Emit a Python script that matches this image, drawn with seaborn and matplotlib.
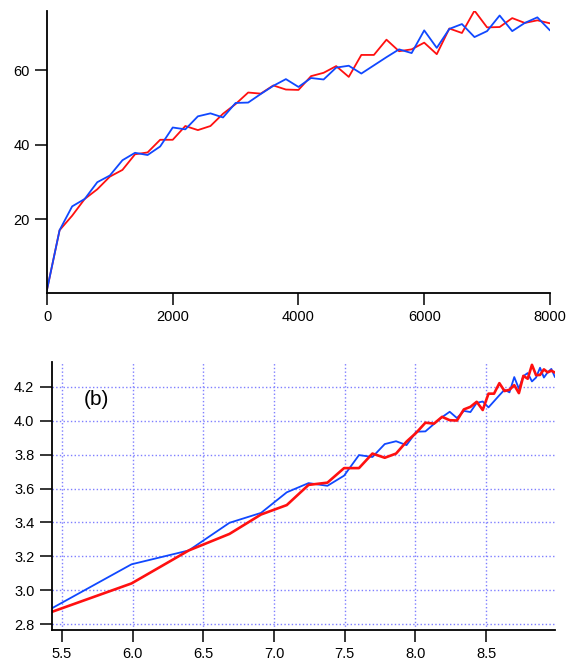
import numpy as np
import matplotlib
matplotlib.use('Agg')
import matplotlib.pyplot as plt
import seaborn as sns

# values (top panel: linear axes, bottom panel: ln-ln of the same data)
steps = [0, 200, 400, 600, 800, 1000, 1200, 1400, 1600, 1800,
         2000, 2200, 2400, 2600, 2800, 3000, 3200, 3400, 3600, 3800,
         4000, 4200, 4400, 4600, 4800, 5000, 5200, 5400, 5600, 5800,
         6000, 6200, 6400, 6600, 6800, 7000, 7200, 7400, 7600, 7800, 8000]

red_vals = [1.0, 17.0, 20.9, 25.4, 28.0, 31.4, 33.2, 37.4, 37.9, 41.3,
            41.3, 45.0, 43.9, 45.0, 48.3, 50.9, 54.0, 53.7, 55.9, 54.8,
            54.7, 58.4, 59.3, 61.1, 58.2, 64.1, 64.1, 68.2, 65.1, 65.6,
            67.4, 64.3, 71.2, 70.0, 76.0, 71.5, 71.6, 74.0, 72.7, 73.4, 72.6]

blue_vals = [1.0, 17.0, 23.4, 25.4, 29.9, 31.7, 35.8, 37.8, 37.2, 39.5,
             44.6, 44.1, 47.6, 48.4, 47.3, 51.2, 51.3, 53.6, 55.8, 57.6,
             55.5, 57.9, 57.5, 60.7, 61.2, 59.1, 61.3, 63.5, 65.6, 64.6,
             70.7, 66.0, 71.1, 72.4, 68.9, 70.5, 74.7, 70.5, 72.7, 74.2, 70.7]

top_xticks = [0, 2000, 4000, 6000, 8000]
top_yticks = [20, 40, 60]
bot_xticks = [5.5, 6.0, 6.5, 7.0, 7.5, 8.0, 8.5]
bot_yticks = [2.8, 3.0, 3.2, 3.4, 3.6, 3.8, 4.0, 4.2]

RED = '#ff1010'
BLUE = '#1048ff'

sns.set_style('ticks')
plt.rcParams['font.family'] = ['Liberation Sans', 'DejaVu Sans']
plt.rcParams['font.size'] = 10
plt.rcParams['text.color'] = 'black'
plt.rcParams['axes.edgecolor'] = 'black'

fig = plt.figure(figsize=(5.67, 6.66), dpi=100)
ax1 = fig.add_axes([0.0829, 0.5605, 0.887, 0.4235])
ax2 = fig.add_axes([0.0912, 0.0541, 0.8875, 0.402])

x = np.array(steps, dtype=float)
r = np.array(red_vals)
b = np.array(blue_vals)

# top panel
sns.lineplot(x=x, y=r, ax=ax1, color=RED, lw=1.3, sort=False)
sns.lineplot(x=x, y=b, ax=ax1, color=BLUE, lw=1.3, sort=False)
ax1.set_xlim(0, 8000)
ax1.set_ylim(0.2, 76.0)
ax1.set_xticks(top_xticks)
ax1.set_yticks(top_yticks)

# bottom panel, log-log
lx = np.log(x[1:])
sns.lineplot(x=lx, y=np.log(b[1:]), ax=ax2, color=BLUE, lw=1.3, sort=False)
sns.lineplot(x=lx, y=np.log(r[1:]), ax=ax2, color=RED, lw=1.9, sort=False)
ax2.set_xlim(5.427, np.log(8000))
ax2.set_ylim(2.765, 4.346)
ax2.set_xticks(bot_xticks)
ax2.set_yticks(bot_yticks)
ax2.set_xticklabels([f'{v:.1f}' for v in bot_xticks])
ax2.set_yticklabels([f'{v:.1f}' for v in bot_yticks])
ax2.grid(True, color='#7f7fff', linestyle=':', lw=1.0)
ax2.set_axisbelow(True)
ax2.text(0.0894, 0.859, '(b)', transform=ax2.transAxes, fontsize=15,
         ha='center', va='center', color='black')

for ax in (ax1, ax2):
    sns.despine(ax=ax)
    ax.spines['left'].set_linewidth(1.3)
    ax.spines['bottom'].set_linewidth(1.3)
    ax.tick_params(direction='out', length=8.5, width=1.1, pad=4,
                   labelsize=10.5, colors='black')
    ax.set_xlabel('')
    ax.set_ylabel('')

fig.savefig('out.png', dpi=100)
